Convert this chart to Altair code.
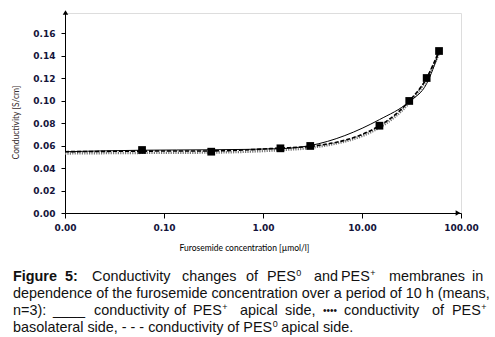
import altair as alt
import pandas as pd

# ---- data ----
conc = [0.01, 0.06, 0.3, 1.5, 3, 15, 30, 45, 60]
pes_plus_apical = [0.0545, 0.0558, 0.0562, 0.0572, 0.0600, 0.0830, 0.0990, 0.1150, 0.1430]
pes_plus_baso = [0.0530, 0.0535, 0.0538, 0.0560, 0.0580, 0.0760, 0.0980, 0.1190, 0.1420]
pes0_apical = [0.0545, 0.0550, 0.0552, 0.0577, 0.0592, 0.0776, 0.0996, 0.1200, 0.1440]
marker_conc = [0.06, 0.3, 1.5, 3, 15, 30, 45, 60]
marker_vals = [0.0560, 0.0545, 0.0575, 0.0596, 0.0776, 0.0996, 0.1200, 0.1440]
y_ticks = [0.0, 0.02, 0.04, 0.06, 0.08, 0.10, 0.12, 0.14, 0.16]
x_ticks = [0.01, 0.1, 1, 10, 100]

W, H = 396, 200
LEFT, TOP = 65, 13
CAP_SIZE = 14.4
SUP_SIZE = 9

xscale = alt.Scale(type="log", domain=[0.01, 100])
yscale = alt.Scale(domain=[0, 0.17778], nice=False)

xaxis = alt.Axis(values=x_ticks, grid=False, tickSize=5, labelPadding=5,
                 labelExpr="datum.value < 0.05 ? '0.00' : format(datum.value, '.2f')",
                 labelFont="DejaVu Sans", labelFontWeight="bold", labelFontSize=9,
                 labelColor="#14143a", labelOverlap=False, labelFlush=False,
                 domainColor="black", tickColor="black",
                 title="Furosemide concentration [µmol/l]", titleFont="Lato",
                 titleFontSize=8.5, titleFontWeight="normal", titleColor="black",
                 titleX=179, titleY=34, titleAlign="center", titleBaseline="middle")
yaxis = alt.Axis(values=y_ticks, format=".2f", grid=False, tickSize=4, labelPadding=6,
                 labelFont="DejaVu Sans", labelFontWeight="bold", labelFontSize=9,
                 labelColor="#14143a", domainColor="black", tickColor="black",
                 title="Conductivity [S/cm]", titleFont="Lato", titleFontSize=8.5,
                 titleFontWeight="normal", titleColor="#3a3030", titleAngle=270,
                 titleX=-50, titleY=109, titleAlign="center", titleBaseline="middle")

def series(vals, name):
    return pd.DataFrame({"conc": conc, "val": vals, "series": name})

base_x = alt.X("conc:Q", scale=xscale, axis=xaxis)
base_y = alt.Y("val:Q", scale=yscale, axis=yaxis)

dotted = alt.Chart(series(pes_plus_baso, "PES+ basolateral")).mark_line(
    interpolate="monotone", color="#777777", strokeWidth=2.6, strokeDash=[1.2, 1.2]
).encode(x=base_x, y=base_y)
dashed = alt.Chart(series(pes0_apical, "PES0 apical")).mark_line(
    interpolate="monotone", color="black", strokeWidth=1.6, strokeDash=[4, 2]
).encode(x=base_x, y=base_y)
solid = alt.Chart(series(pes_plus_apical, "PES+ apical")).mark_line(
    interpolate="monotone", color="black", strokeWidth=1
).encode(x=base_x, y=base_y)
markers = alt.Chart(pd.DataFrame({"conc": marker_conc, "val": marker_vals})).mark_point(
    shape="square", filled=True, color="black", opacity=1, size=60
).encode(x=base_x, y=base_y)

one = pd.DataFrame({"a": [0]})
arrow_up = alt.Chart(one).mark_point(shape="triangle-up", filled=True, color="black",
                                     opacity=1, size=30).encode(
    x=alt.value(0.5), y=alt.value(-0.5))
arrow_right = alt.Chart(one).mark_point(shape="triangle-right", filled=True, color="black",
                                        opacity=1, size=30).encode(
    x=alt.value(393), y=alt.value(H))

plot = alt.layer(dotted, dashed, solid, markers, arrow_up, arrow_right)

# ---- caption (justified word placement, Arial-metric widths) ----
ARIAL = {c: 0.556 for c in "abdeghnopqu"}
ARIAL.update({"c": 0.5, "k": 0.5, "s": 0.5, "v": 0.5, "x": 0.5, "y": 0.5, "z": 0.5,
              "f": 0.278, "t": 0.278, "i": 0.222, "j": 0.222, "l": 0.222, "m": 0.833,
              "r": 0.333, "w": 0.722, "P": 0.667, "E": 0.667, "S": 0.667, " ": 0.278,
              ",": 0.278, "-": 0.333, ".": 0.278})

def text_w(s, size=CAP_SIZE):
    return sum(ARIAL.get(ch, 0.556) for ch in s) * size

L1, L2, L3, L4 = 281, 298, 315, 332  # baselines
line4_a = "basolateral side, - - - conductivity of PES"
sup4_x = 13 + text_w(line4_a)

cap_bold = [("Figure", 13, L1), ("5:", 65, L1)]
cap_norm = [
    ("Conductivity", 92, L1), ("changes", 182, L1), ("of", 246, L1),
    ("PES", 267, L1), ("and", 314, L1), ("PES", 341, L1),
    ("membranes", 389, L1), ("in", 472, L1),
    ("dependence of the furosemide concentration over a period of 10 h (means,", 13, L2),
    ("n=3):", 13, L3), ("____", 53, L3), ("conductivity", 94, L3), ("of", 174, L3),
    ("PES", 193, L3), ("apical", 240, L3), ("side,", 285, L3),
    ("conductivity", 344, L3), ("of", 432, L3), ("PES", 452, L3),
    (line4_a, 13, L4), ("apical side.", sup4_x + 9, L4),
]
pes_w = text_w("PES")
cap_sup = [
    ("0", 267 + pes_w + 0.5, L1 - 5), ("+", 341 + pes_w + 0.5, L1 - 5),
    ("+", 193 + pes_w + 0.5, L3 - 5), ("+", 452 + pes_w + 0.5, L3 - 5),
    ("0", sup4_x + 0.5, L4 - 5),
]
cap_small = [("••••", 323, L3 - 1)]

def cap_df(items):
    return pd.DataFrame({"txt": [t for t, _, _ in items],
                         "px": [x - LEFT for _, x, _ in items],
                         "py": [y - TOP for _, _, y in items]})

def cap_layer(items, weight, size):
    return alt.Chart(cap_df(items)).mark_text(
        align="left", baseline="alphabetic", font="Liberation Sans", fontSize=size,
        fontWeight=weight, color="#111111"
    ).encode(x=alt.X("px:Q", scale=None, axis=None),
             y=alt.Y("py:Q", scale=None, axis=None),
             text="txt:N")

caption = alt.layer(cap_layer(cap_bold, "bold", CAP_SIZE),
                    cap_layer(cap_norm, "normal", CAP_SIZE),
                    cap_layer(cap_sup, "normal", SUP_SIZE),
                    cap_layer(cap_small, "normal", 10))

chart = alt.layer(plot, caption).resolve_scale(x="independent", y="independent").properties(
    width=W, height=H,
    autosize=alt.AutoSizeParams(type="none"),
    padding={"left": LEFT, "top": TOP, "right": 495 - LEFT - W, "bottom": 337 - TOP - H},
).configure_view(stroke=None).configure(background="white")

chart.save("out.html", embed_options={"renderer": "svg", "actions": False})
